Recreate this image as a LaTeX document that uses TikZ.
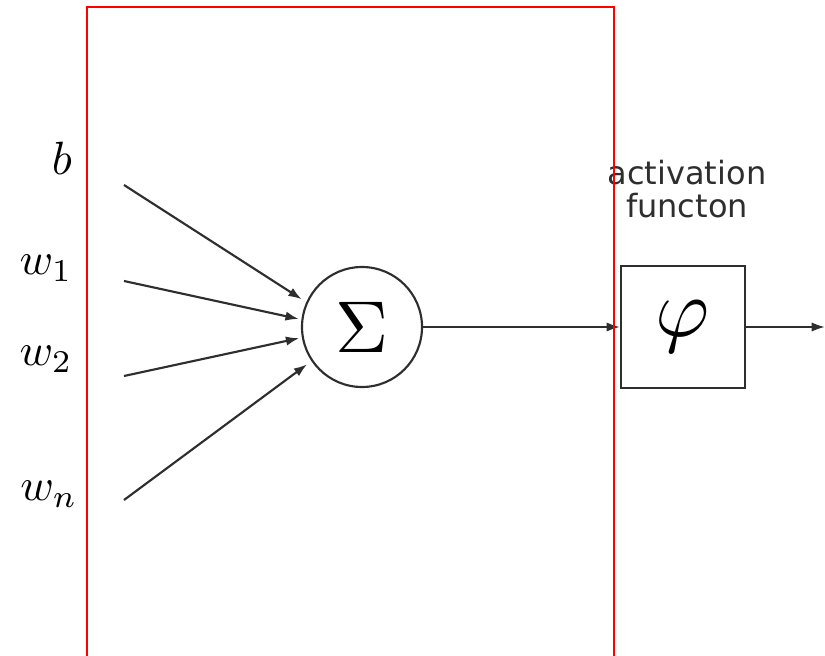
\documentclass[tikz,border=0pt]{standalone}
\usepackage{fontspec}
\usepackage{graphicx}
\newfontfamily\labelsans{DejaVu Sans}
\usetikzlibrary{arrows.meta}
\definecolor{ink}{HTML}{2E2E2E}
\tikzset{
  conn/.style={draw=ink, line width=1.6pt, -{Latex[length=10pt,width=7pt]}},
  inlabel/.style={inner sep=0pt},
  sumnode/.style={circle, draw=ink, line width=1.6pt, minimum size=120*0.75pt, inner sep=0pt},
  actbox/.style={rectangle, draw=ink, line width=1.6pt, minimum width=124*0.75pt, minimum height=122*0.75pt, inner sep=0pt},
  acttext/.style={align=center, text=ink, font=\labelsans\fontsize{24}{25}\selectfont, inner sep=0pt},
  redframe/.style={draw=red, line width=2pt}
}
\begin{document}
\begin{tikzpicture}[x=0.75pt,y=-0.75pt]
\useasboundingbox (0,0) rectangle (825,656);
% labels
\node[inlabel] (lb) at (62,158) {\scalebox{3.5}{$b$}};
\node[inlabel] (lw1) at (46,268) {\scalebox{3.4}{$w_1$}};
\node[inlabel] (lw2) at (46,359) {\scalebox{3.4}{$w_2$}};
\node[inlabel] (lwn) at (49,494) {\scalebox{3.4}{$w_n$}};
% input start points
\coordinate (sb) at (124,185);
\coordinate (s1) at (124,281);
\coordinate (s2) at (124,376);
\coordinate (sn) at (124,500);
% summation node
\node[sumnode] (sum) at (362,327) {\scalebox{5.5}{$\Sigma$}};
% activation box
\node[actbox] (phi) at (683,327) {\scalebox{6.2}{$\varphi$}};
\node[acttext] (act) at (687,189) {activation\\functon};
\coordinate (out) at (825,327);
% connectors
\draw[conn, shorten >=4pt] (sb) -- (sum.156);
\draw[conn, shorten >=2pt] (s1) -- (sum.173);
\draw[conn, shorten >=2pt] (s2) -- (sum.190);
\draw[conn, shorten >=4pt] (sn) -- (sum.214);
\draw[conn] (sum.east) -- (phi.west);
\draw[conn] (phi.east) -- (out);
% red frame
\draw[redframe] (87,657) -- (87,7) -- (614,7) -- (614,657);
\end{tikzpicture}
\end{document}
